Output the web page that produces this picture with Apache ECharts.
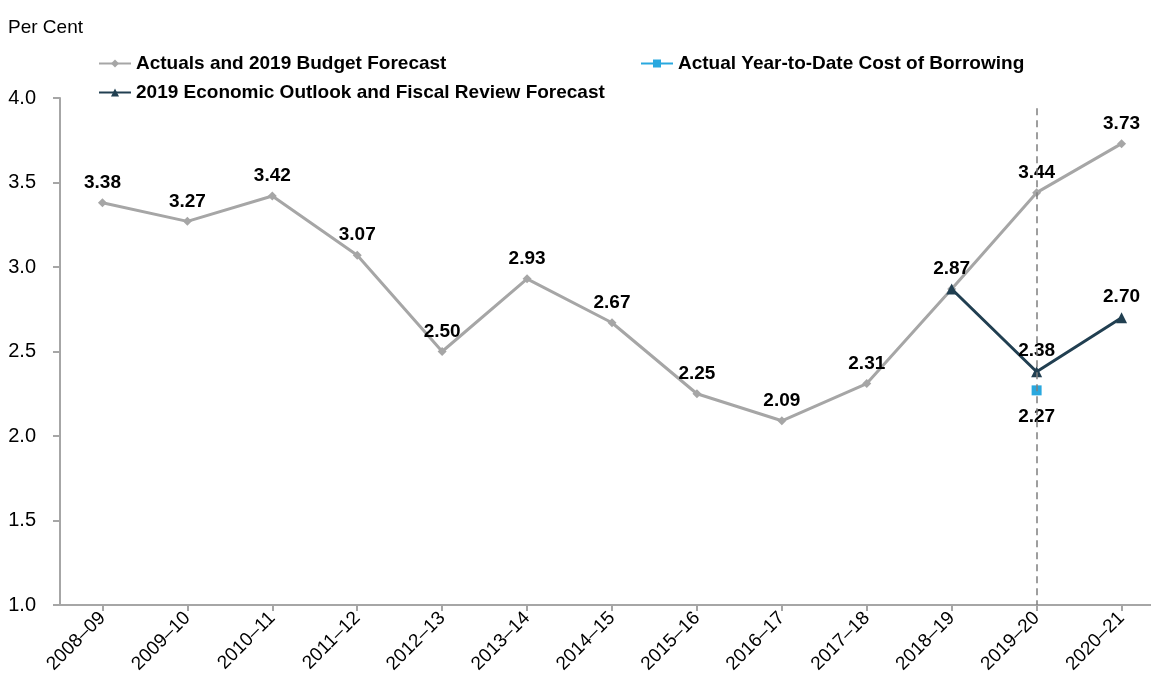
<!DOCTYPE html>
<html>
<head>
<meta charset="utf-8">
<script src="https://cdn.jsdelivr.net/npm/echarts@6/dist/echarts.min.js"></script>
<style>
  html, body { margin: 0; padding: 0; background: #ffffff; }
  #chart { width: 1151px; height: 680px; }
</style>
</head>
<body>
<div id="chart"></div>
<script>
// Fiscal years on the category axis
const years = ['2008\u201309', '2009\u201310', '2010\u201311', '2011\u201312', '2012\u201313', '2013\u201314',
  '2014\u201315', '2015\u201316', '2016\u201317', '2017\u201318', '2018\u201319', '2019\u201320', '2020\u201321'];

// Effective interest rate, per cent
const budgetForecast = [3.38, 3.27, 3.42, 3.07, 2.50, 2.93, 2.67, 2.25, 2.09, 2.31, 2.87, 3.44, 3.73];
const outlookForecast = [null, null, null, null, null, null, null, null, null, null, 2.87, 2.38, 2.70];
const yearToDate = [null, null, null, null, null, null, null, null, null, null, null, 2.27, null];

// Divider marking the current fiscal year
const dividerYear = '2019\u201320';
const dividerTop = 3.94;
const dividerBottom = 1.0;

const yTicks = { min: 1.0, max: 4.0, interval: 0.5 };

const FONT = '"Liberation Sans Narrow", "Arial Narrow", "Liberation Sans", Arial, sans-serif';
const GRAY = '#a6a6a6';
const NAVY = '#213f51';
const CYAN = '#29a8df';

const valueLabel = {
  show: true,
  position: 'top',
  distance: 6,
  fontFamily: FONT,
  fontWeight: 'bold',
  fontSize: 19,
  color: '#000000',
  formatter: p => p.value == null ? '' : Number(p.value).toFixed(2)
};

const legendText = { fontFamily: FONT, fontWeight: 'bold', fontSize: 19, color: '#000000' };

const chart = echarts.init(document.getElementById('chart'), null, { renderer: 'canvas' });

chart.setOption({
  animation: false,
  backgroundColor: '#ffffff',
  textStyle: { fontFamily: FONT },
  title: {
    text: 'Per Cent',
    left: 3,
    top: 13,
    textStyle: { fontFamily: FONT, fontWeight: 'normal', fontSize: 19, color: '#000000' }
  },
  legend: [
    {
      left: 93,
      top: 49,
      orient: 'vertical',
      itemGap: 10,
      itemWidth: 32,
      itemHeight: 10,
      data: ['Actuals and 2019 Budget Forecast', '2019 Economic Outlook and Fiscal Review Forecast'],
      textStyle: legendText
    },
    {
      left: 635,
      top: 49,
      itemWidth: 32,
      itemHeight: 10,
      data: ['Actual Year-to-Date Cost of Borrowing'],
      textStyle: legendText
    }
  ],
  grid: {
    left: 60,
    top: 98,
    width: 1104,
    bottom: 75,
    outerBoundsMode: 'none',
    containLabel: false
  },
  xAxis: {
    type: 'category',
    data: years,
    boundaryGap: true,
    axisLine: { lineStyle: { color: GRAY, width: 2 } },
    axisTick: { show: true, alignWithLabel: true, length: 6, lineStyle: { color: GRAY, width: 2 } },
    axisLabel: {
      rotate: 45,
      interval: 0,
      margin: 10,
      fontFamily: FONT,
      fontSize: 19,
      color: '#000000'
    },
    splitLine: { show: false }
  },
  yAxis: {
    type: 'value',
    min: yTicks.min,
    max: yTicks.max,
    interval: yTicks.interval,
    axisLine: { show: true, lineStyle: { color: GRAY, width: 2 } },
    axisTick: { show: true, length: 7, lineStyle: { color: GRAY, width: 2 } },
    axisLabel: {
      margin: 24,
      fontFamily: FONT,
      fontSize: 20,
      color: '#000000',
      formatter: v => v.toFixed(1)
    },
    splitLine: { show: false }
  },
  series: [
    {
      name: 'Actuals and 2019 Budget Forecast',
      type: 'line',
      data: budgetForecast,
      symbol: 'diamond',
      symbolSize: 9,
      color: GRAY,
      lineStyle: { color: GRAY, width: 3 },
      itemStyle: { color: GRAY },
      label: valueLabel,
      z: 2,
      markLine: {
        silent: true,
        symbol: ['none', 'none'],
        label: { show: false },
        lineStyle: { color: '#7f7f7f', type: [7, 5], width: 1.5 },
        data: [[
          { coord: [dividerYear, dividerTop] },
          { coord: [dividerYear, dividerBottom] }
        ]]
      }
    },
    {
      name: '2019 Economic Outlook and Fiscal Review Forecast',
      type: 'line',
      data: outlookForecast,
      symbol: 'triangle',
      symbolSize: 11,
      color: NAVY,
      lineStyle: { color: NAVY, width: 3 },
      itemStyle: { color: NAVY },
      label: Object.assign({}, valueLabel, {
        formatter: p => (p.value == null || p.dataIndex === 10) ? '' : Number(p.value).toFixed(2)
      }),
      z: 3
    },
    {
      name: 'Actual Year-to-Date Cost of Borrowing',
      type: 'line',
      data: yearToDate,
      symbol: 'rect',
      symbolSize: 10,
      showSymbol: true,
      color: CYAN,
      lineStyle: { color: CYAN, width: 3 },
      itemStyle: { color: CYAN },
      label: Object.assign({}, valueLabel, { position: 'bottom', distance: 12 }),
      z: 4
    }
  ]
});
</script>
</body>
</html>
